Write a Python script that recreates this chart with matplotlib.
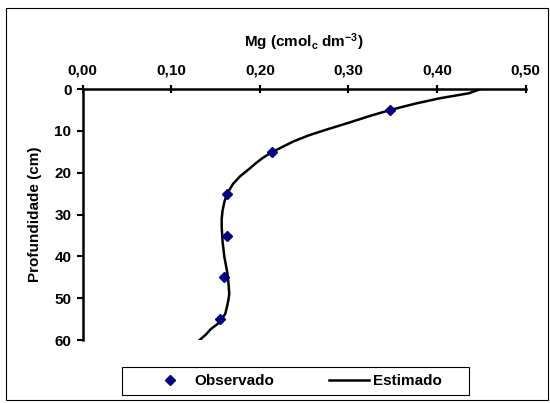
import matplotlib.pyplot as plt
from matplotlib.patches import Rectangle
from matplotlib.ticker import FuncFormatter

# dados observados
prof_obs = [5, 15, 25, 35, 45, 55]
mg_obs = [0.347, 0.214, 0.163, 0.163, 0.160, 0.155]

# curva estimada
prof_est = [0, 1, 2.2, 3.5, 5, 6.5, 8, 9.5, 11, 12.5, 14.2, 15, 16.5, 17.8, 19, 20.8, 22.6, 25, 27,
            29, 31, 33, 36.5, 40.1, 43.5, 45, 47.3, 49, 50.5, 52, 53.7, 55, 56.2, 57.3, 58.7, 60]
mg_est = [0.449, 0.436, 0.403, 0.375, 0.347, 0.323, 0.301, 0.278, 0.256, 0.238, 0.222, 0.214, 0.203,
          0.195, 0.1885, 0.178, 0.170, 0.163, 0.160, 0.158, 0.157, 0.157, 0.158, 0.160, 0.163, 0.164,
          0.165, 0.1655, 0.1645, 0.163, 0.161, 0.157, 0.152, 0.145, 0.139, 0.132]

fs = 11
plt.rcParams['font.family'] = ['Liberation Sans', 'DejaVu Sans']
plt.rcParams['font.weight'] = 'bold'
plt.rcParams['mathtext.fontset'] = 'custom'
plt.rcParams['mathtext.rm'] = 'Liberation Sans:bold'
plt.rcParams['mathtext.it'] = 'Liberation Sans:bold'
plt.rcParams['mathtext.bf'] = 'Liberation Sans:bold'
plt.rcParams['axes.unicode_minus'] = False

fig = plt.figure(figsize=(5.5, 4.03), dpi=100)
ax = fig.add_axes([0.150, 0.156, 0.806, 0.623])

ax.plot(mg_est, prof_est, color='black', lw=1.8, label='Estimado', zorder=2)
ax.plot(mg_obs, prof_obs, ls='none', marker='D', ms=5.5, color='#000080', label='Observado', zorder=3)

ax.set_xlim(0, 0.5)
ax.set_ylim(60, 0)
ax.set_xticks([0, 0.1, 0.2, 0.3, 0.4, 0.5])
ax.set_yticks(range(0, 61, 10))
ax.xaxis.set_major_formatter(FuncFormatter(lambda v, p: ('%.2f' % v).replace('.', ',')))
ax.xaxis.tick_top()
ax.xaxis.set_label_position('top')
ax.tick_params(axis='x', direction='inout', length=6, width=1.5, labelsize=fs, pad=5)
ax.tick_params(axis='y', direction='out', length=4, width=1.5, labelsize=fs, pad=4)
for s in ['right', 'bottom']:
    ax.spines[s].set_visible(False)
for s in ['top', 'left']:
    ax.spines[s].set_linewidth(1.8)

ax.set_xlabel('Mg (cmol$_c$ dm$^{-3}$)', fontsize=fs, fontweight='bold', labelpad=12)
ax.set_ylabel('Profundidade (cm)', fontsize=fs, fontweight='bold', labelpad=9)

h, l = ax.get_legend_handles_labels()
leg = fig.legend([h[1], h[0]], [l[1], l[0]], ncol=2, loc='center',
                 bbox_to_anchor=(0.538, 0.0546), frameon=False,
                 fontsize=fs, handlelength=2.6, handletextpad=0.3, columnspacing=3.6)

# caixa da legenda e moldura externa
fig.patches.append(Rectangle((122 / 550, 1 - 395 / 403), 347 / 550, 28 / 403, transform=fig.transFigure,
                             fill=False, edgecolor='black', lw=0.8))
fig.patches.append(Rectangle((0.011, 0.007), 0.985, 0.972, transform=fig.transFigure,
                             fill=False, edgecolor='black', lw=0.8))

fig.savefig('out.png', dpi=100)
